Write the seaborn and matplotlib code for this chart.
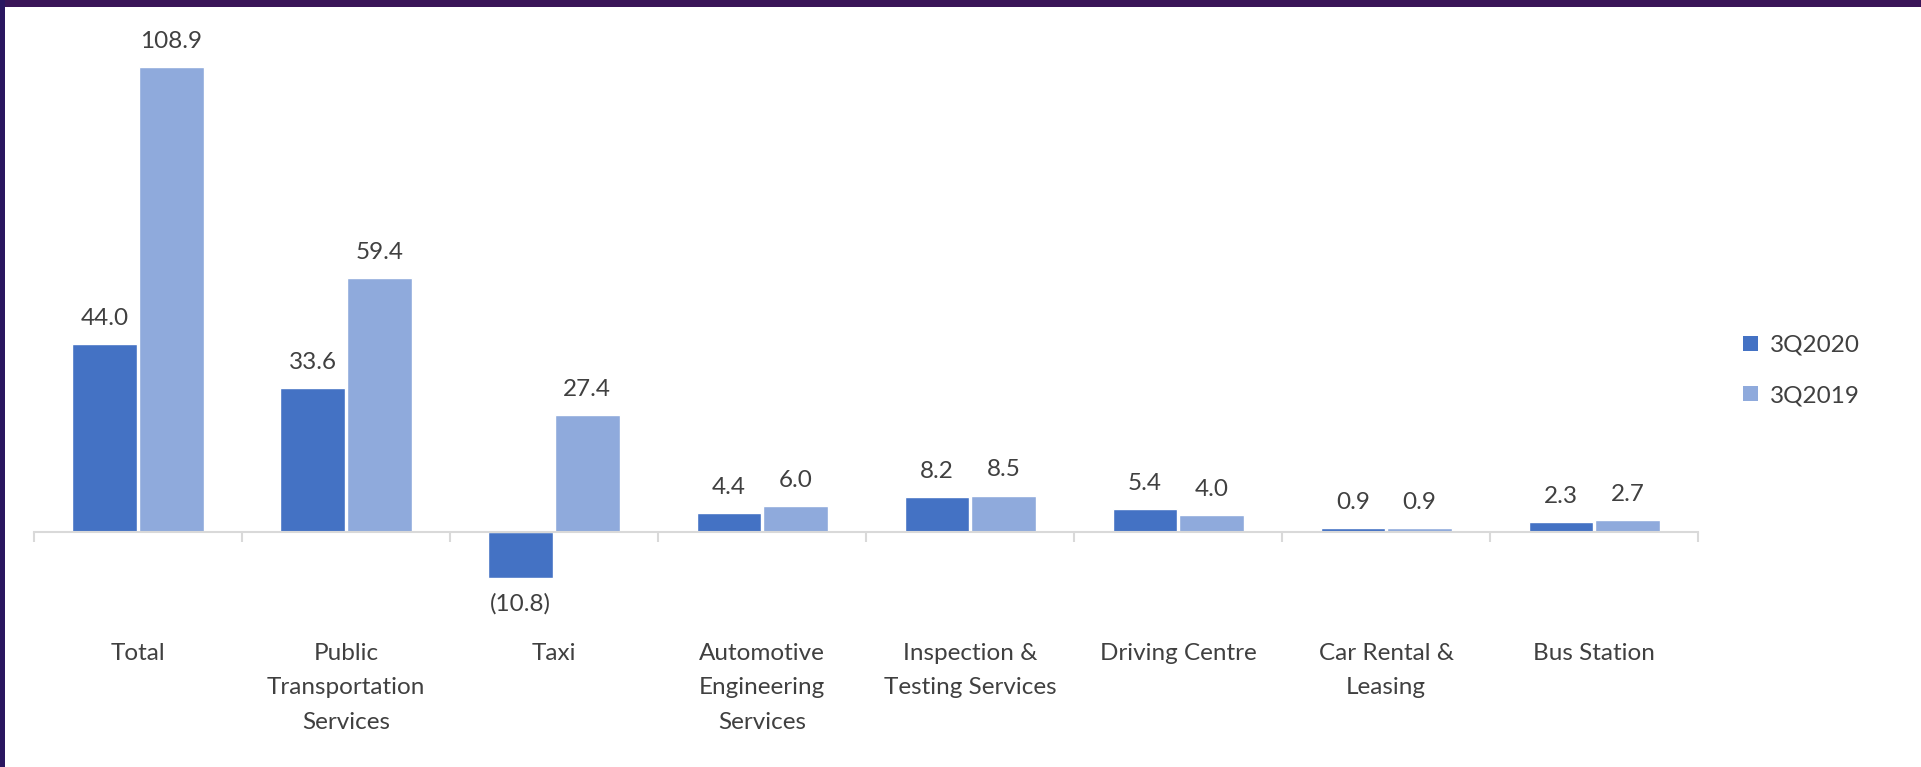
import matplotlib
matplotlib.use("Agg")
import matplotlib.pyplot as plt
from matplotlib.patches import Patch, Rectangle
import seaborn as sns
import pandas as pd

categories = ["Total", "Public\nTransportation\nServices", "Taxi", "Automotive\nEngineering\nServices",
              "Inspection &\nTesting Services", "Driving Centre", "Car Rental &\nLeasing", "Bus Station"]
values_3q2020 = [44.0, 33.6, -10.8, 4.4, 8.2, 5.4, 0.9, 2.3]
values_3q2019 = [108.9, 59.4, 27.4, 6.0, 8.5, 4.0, 0.9, 2.7]
series = ["3Q2020", "3Q2019"]
colors = ["#4472C4", "#8FAADC"]

df = pd.DataFrame({
    "category": categories * 2,
    "value": values_3q2020 + values_3q2019,
    "period": [series[0]] * len(categories) + [series[1]] * len(categories),
})

sns.set_theme(style="white")
plt.rcParams["font.family"] = ["Lato", "DejaVu Sans"]
text_color = "#404040"

fig = plt.figure(figsize=(19.21, 7.67), dpi=100)
fig.patch.set_facecolor("white")
ax = fig.add_axes([0.0177, 0.223, 0.8663, 0.7236])

sns.barplot(data=df, x="category", y="value", hue="period", hue_order=series,
            palette=colors, width=0.64, gap=0.03, errorbar=None, legend=False,
            saturation=1, ax=ax)

ax.set_xlim(-0.5, len(categories) - 0.5)
ax.set_ylim(-15, 115)
ax.set_xlabel("")
ax.set_ylabel("")
ax.set_yticks([])

for s in ["top", "left", "right"]:
    ax.spines[s].set_visible(False)
ax.spines["bottom"].set_position(("data", 0))
ax.spines["bottom"].set_color("#d9d9d9")
ax.spines["bottom"].set_linewidth(1.5)

ax.set_xticks(range(len(categories)))
ax.set_xticklabels(categories, fontsize=17.5, color=text_color, linespacing=1.78, va="top")
ax.tick_params(axis="x", which="major", length=0, pad=80)
ax.set_xticks([i - 0.5 for i in range(len(categories) + 1)], minor=True)
ax.tick_params(axis="x", which="minor", bottom=True, length=7, width=1.5, color="#d9d9d9",
               direction="out")

def fmt(v):
    return f"({abs(v):.1f})" if v < 0 else f"{v:.1f}"

for cont, vals in zip(ax.containers, [values_3q2020, values_3q2019]):
    ax.bar_label(cont, labels=[fmt(v) for v in vals], padding=11, fontsize=17.5, color=text_color)

handles = [Patch(facecolor=c, edgecolor="none") for c in colors]
fig.legend(handles, series, loc="center left", bbox_to_anchor=(0.896, 0.517), frameon=False,
           fontsize=17.5, handlelength=0.6, handleheight=0.6, handletextpad=0.5,
           labelspacing=1.2, labelcolor=text_color)

# slide frame bands
fig.patches.append(Rectangle((0, 1 - 7 / 767), 1, 7 / 767, transform=fig.transFigure,
                             facecolor="#3a1558", edgecolor="none", zorder=10))
fig.patches.append(Rectangle((0, 0), 5 / 1921, 1, transform=fig.transFigure,
                             facecolor="#2a1660", edgecolor="none", zorder=10))

fig.savefig("out.png", dpi=100, facecolor="white")
